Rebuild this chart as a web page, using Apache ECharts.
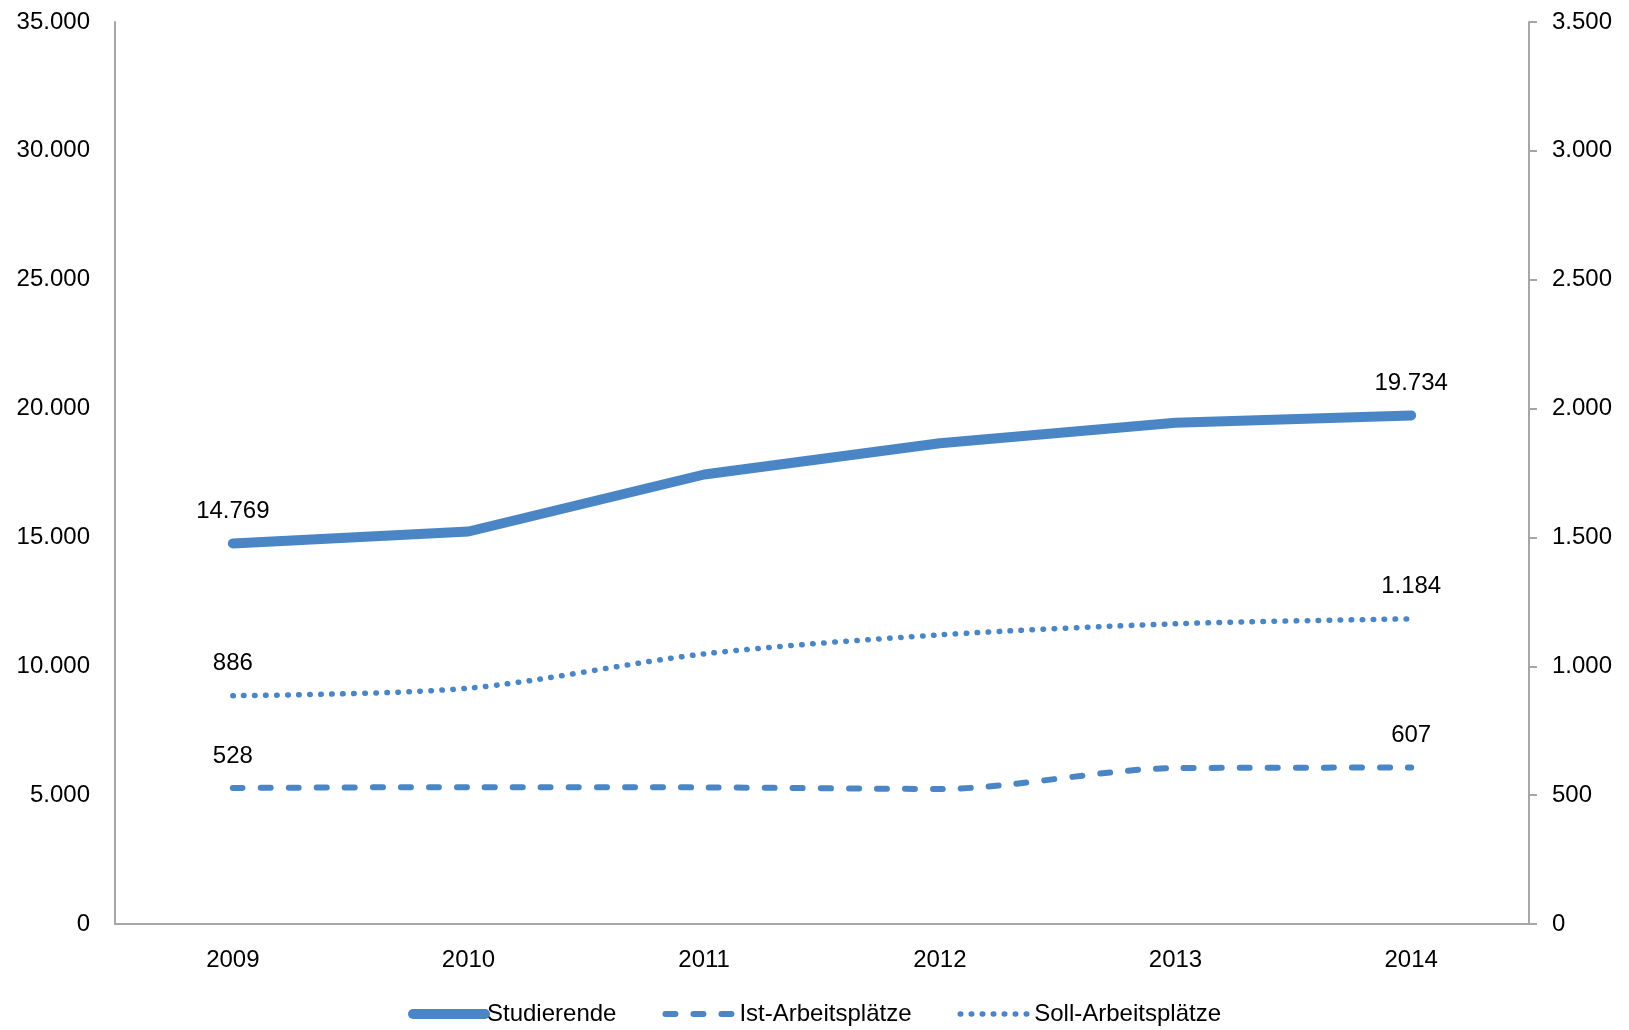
<!DOCTYPE html>
<html>
<head>
<meta charset="utf-8">
<script src="https://cdn.jsdelivr.net/npm/echarts@6/dist/echarts.min.js"></script>
<style>
html,body{margin:0;padding:0;background:#fff;}
#chart{width:1629px;height:1030px;}
</style>
</head>
<body>
<div id="chart"></div>
<script>
const years = ['2009', '2010', '2011', '2012', '2013', '2014'];
const studierende = [14769, 15230, 17442, 18653, 19450, 19734];
const istArbeitsplaetze = [528, 531, 530, 524, 605, 607];
const sollArbeitsplaetze = [886, 915, 1048, 1122, 1165, 1184];
const leftTicks = [0, 35000, 5000];
const rightTicks = [0, 3500, 500];
const labeledIdx = [0, 5];

const FONT = '"Liberation Sans", Arial, sans-serif';
const BLUE = '#4A86C6';
const AXIS = '#A6A6A6';

function fmt(v) {
  return String(v).replace(/\B(?=(\d{3})+(?!\d))/g, '.');
}

function endLabels(arr) {
  return {
    symbol: 'circle',
    symbolSize: 0,
    silent: true,
    itemStyle: { color: 'rgba(0,0,0,0)' },
    label: {
      show: true,
      position: 'top',
      distance: 20,
      color: '#000',
      fontFamily: FONT,
      fontSize: 24,
      formatter: p => fmt(p.value)
    },
    data: labeledIdx.map(i => ({ coord: [i, arr[i]], value: arr[i] }))
  };
}

const chart = echarts.init(document.getElementById('chart'), null, { renderer: 'canvas' });
chart.setOption({
  animation: false,
  backgroundColor: '#fff',
  textStyle: { fontFamily: FONT },
  grid: { left: 115, right: 100, top: 22, bottom: 106, containLabel: false },
  legend: {
    top: 997,
    left: 'center',
    itemWidth: 72,
    itemHeight: 12,
    itemGap: 46,
    textStyle: { fontFamily: FONT, fontSize: 24, color: '#000', padding: [0, 0, 0, -3] },
    lineStyle: { width: 'inherit' },
    itemStyle: { opacity: 0, color: 'rgba(0,0,0,0)', borderWidth: 0 },
    data: ['Studierende', 'Ist-Arbeitsplätze', 'Soll-Arbeitsplätze']
  },
  xAxis: {
    type: 'category',
    data: years,
    boundaryGap: true,
    axisLine: { show: true, lineStyle: { color: AXIS, width: 2 } },
    axisTick: { show: false },
    axisLabel: { color: '#000', fontFamily: FONT, fontSize: 24, margin: 24 },
    splitLine: { show: false }
  },
  yAxis: [
    {
      type: 'value',
      min: leftTicks[0], max: leftTicks[1], interval: leftTicks[2],
      axisLine: { show: true, lineStyle: { color: AXIS, width: 2 } },
      axisTick: { show: false },
      axisLabel: { color: '#000', fontFamily: FONT, fontSize: 24, margin: 25, formatter: fmt },
      splitLine: { show: false }
    },
    {
      type: 'value',
      position: 'right',
      min: rightTicks[0], max: rightTicks[1], interval: rightTicks[2],
      axisLine: { show: true, lineStyle: { color: AXIS, width: 2 } },
      axisTick: { show: true, inside: false, length: 8, lineStyle: { color: AXIS, width: 2 } },
      axisLabel: { color: '#000', fontFamily: FONT, fontSize: 24, margin: 23, formatter: fmt },
      splitLine: { show: false }
    }
  ],
  series: [
    {
      name: 'Studierende',
      type: 'line',
      yAxisIndex: 0,
      symbol: 'none',
      data: studierende,
      lineStyle: { color: BLUE, width: 10, cap: 'round', join: 'round' },
      itemStyle: { color: BLUE },
      markPoint: endLabels(studierende),
      z: 3
    },
    {
      name: 'Ist-Arbeitsplätze',
      type: 'line',
      yAxisIndex: 1,
      symbol: 'none',
      smooth: 0.3,
      data: istArbeitsplaetze,
      lineStyle: { color: BLUE, width: 6, type: [10, 18], cap: 'round', join: 'round' },
      itemStyle: { color: BLUE },
      markPoint: endLabels(istArbeitsplaetze)
    },
    {
      name: 'Soll-Arbeitsplätze',
      type: 'line',
      yAxisIndex: 1,
      symbol: 'none',
      smooth: 0.3,
      data: sollArbeitsplaetze,
      lineStyle: { color: BLUE, width: 5.5, type: [0.5, 10.5], cap: 'round', join: 'round' },
      itemStyle: { color: BLUE },
      markPoint: endLabels(sollArbeitsplaetze)
    }
  ]
});
</script>
</body>
</html>
